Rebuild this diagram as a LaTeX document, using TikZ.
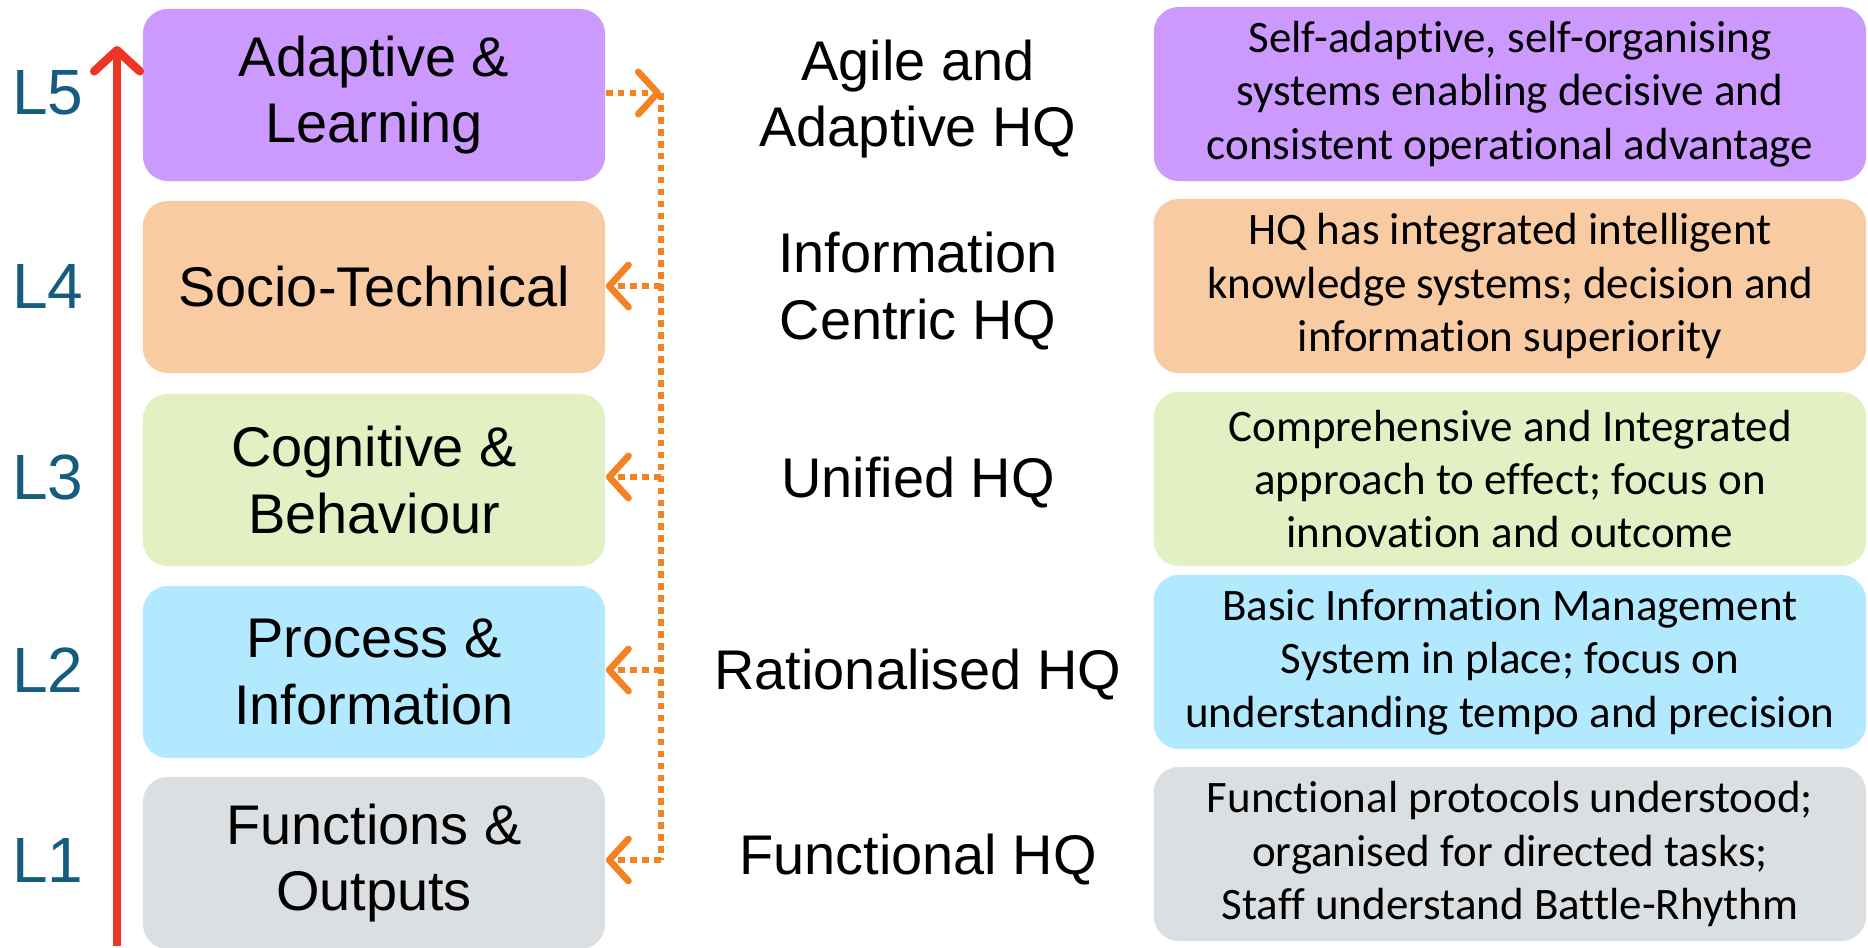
\documentclass[tikz,border=0pt]{standalone}
\usepackage{fontspec}
\setmainfont{Liberation Sans}
\newfontfamily\calfont[Ligatures=NoCommon]{Carlito}
\usetikzlibrary{arrows.meta}
\definecolor{lvpurple}{RGB}{204,153,255}
\definecolor{lvpeach}{RGB}{249,203,162}
\definecolor{lvgreen}{RGB}{226,240,196}
\definecolor{lvblue}{RGB}{179,233,254}
\definecolor{lvgray}{RGB}{220,223,226}
\definecolor{lvteal}{RGB}{22,92,128}
\definecolor{lvred}{RGB}{238,52,36}
\definecolor{lvorange}{RGB}{245,130,32}
\begin{document}
\begin{tikzpicture}[x=0.01cm, y=-0.01cm,
  layer/.style={rounded corners=0.25cm, minimum width=4.62cm, minimum height=1.72cm, inner sep=0pt, align=center, font=\fontsize{15.9}{19}\selectfont},
  hq/.style={align=center, inner sep=0pt, font=\fontsize{15.9}{19}\selectfont},
  descr/.style={rounded corners=0.25cm, minimum width=7.12cm, minimum height=1.74cm, inner sep=0pt, align=center, font=\calfont\fontsize{12.8}{15.2}\selectfont},
  lvl/.style={text=lvteal, inner sep=0pt, font=\fontsize{18.2}{21}\selectfont},
  feed/.style={draw=lvorange, line width=1.9pt, dash pattern=on 1.9pt off 1.5pt},
  feedtip/.style={-{Straight Barb[length=5.5pt, width=12pt, round]}},
  rise/.style={draw=lvred, line width=2.4pt, -{Straight Barb[length=6pt, width=13pt, round]}}]
\useasboundingbox (0,0) rectangle (1868,948);
\node[layer, fill=lvpurple] (lay5) at (374,95){Adaptive \&\\Learning};
\node[layer, fill=lvpeach] (lay4) at (374,287){Socio-Technical};
\node[layer, fill=lvgreen] (lay3) at (374,480){Cognitive \&\\Behaviour};
\node[layer, fill=lvblue] (lay2) at (374,672){Process \&\\Information};
\node[layer, fill=lvgray] (lay1) at (374,863){Functions \&\\Outputs};
\node[lvl] (lv5) at (48,93){L5};
\node[lvl] (lv4) at (48,286){L4};
\node[lvl] (lv3) at (48,477){L3};
\node[lvl] (lv2) at (48,670){L2};
\node[lvl] (lv1) at (48,860){L1};
\node[hq] (hq5) at (918,99){Agile and\\Adaptive HQ};
\node[hq] (hq4) at (918,291){Information\\Centric HQ};
\node[hq] (hq3) at (918,483){Unified HQ};
\node[hq] (hq2) at (918,675){Rationalised HQ};
\node[hq] (hq1) at (918,860){Functional HQ};
\node[descr, fill=lvpurple] (des5) at (1510,94){Self-adaptive, self-organising\\systems enabling decisive and\\consistent operational advantage};
\node[descr, fill=lvpeach] (des4) at (1510,286){HQ has integrated intelligent\\knowledge systems; decision and\\information superiority};
\node[descr, fill=lvgreen] (des3) at (1510,479){Comprehensive and Integrated\\approach to effect; focus on\\innovation and outcome};
\node[descr, fill=lvblue] (des2) at (1510,662){Basic Information Management\\System in place; focus on\\understanding tempo and precision};
\node[descr, fill=lvgray] (des1) at (1510,854){Functional protocols understood;\\organised for directed tasks;\\Staff understand Battle-Rhythm};
\coordinate (rbase) at (117,946);
\coordinate (rtop) at (117,46);
\draw[rise](rbase) -- (rtop);
\coordinate (v5) at (661,93);
\coordinate (v4) at (661,286);
\coordinate (v3) at (661,477);
\coordinate (v2) at (661,670);
\coordinate (v1) at (661,860);
\draw[feed, feedtip](v5 -| lay5.east) -- (v5);
\draw[feed](v5) -- (v1);
\draw[feed, feedtip](v4) -- (v4 -| lay4.east);
\draw[feed, feedtip](v3) -- (v3 -| lay3.east);
\draw[feed, feedtip](v2) -- (v2 -| lay2.east);
\draw[feed, feedtip](v1) -- (v1 -| lay1.east);
\end{tikzpicture}
\end{document}
